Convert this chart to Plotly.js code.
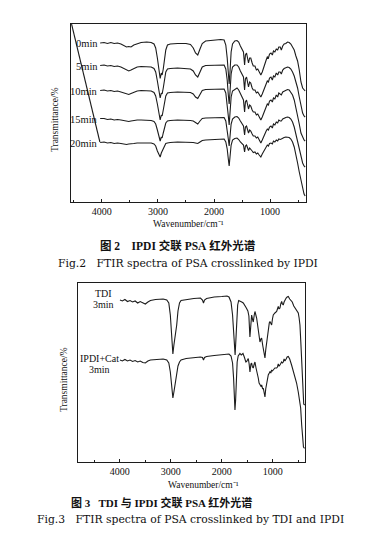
<!DOCTYPE html>
<html>
<head>
<meta charset="utf-8">
<script src="https://cdn.plot.ly/plotly-3.0.1.min.js"></script>
<style>
html,body{margin:0;padding:0;background:#fff;}
#chart{width:376px;height:534px;}
</style>
</head>
<body>
<div id="chart"></div>
<script>
// ---------- Fig.2 : IPDI crosslinked PSA, spectra after 0-20 min ----------
const wn1 = [4030,3960,3900,3840,3780,3720,3660,3600,3560,3520,3480,3430,3370,3300,3200,3120,3070,3040,3010,2985,2960,2940,2925,2905,2885,2860,2830,2780,2650,2500,2420,2370,2330,2290,2250,2210,2150,2000,1880,1820,1790,1765,1745,1730,1715,1695,1670,1630,1590,1560,1530,1500,1475,1455,1440,1420,1400,1385,1365,1345,1320,1300,1270,1245,1220,1195,1165,1140,1115,1095,1070,1050,1030,1010,985,960,940,915,890,865,845,820,800,775,750,720,690,660,630,600,570,540,510,480,450,420,395,375];

const t0min = [157,157.5,156.5,157.5,156.5,157,156,154.5,153,153.5,153,155,156.5,157.5,158,157.5,156,152,142,130,121.5,127,125,131,138,150,155,156,156.5,156.5,155.5,152,147,145,151,156.5,159,160,160.5,160,155,142,125,116,128,148,156,159,159.5,158,154,150,148,135,145,147,139,137,142,142,137,134,134,130,131,128,125,128,133,136,140,143,142,146,147,145,149,148,151,150,153,153,150,154,156,156.5,158,157.5,156,153,150,144,139,130,118,112,110,109];

const t5min = [134.5,135,134,134.5,133.5,134,133,131.5,130,129,130,131.5,133,133.5,133.5,133,131.5,128,119,108,102,107,106,112,119,128,131,131.5,132,131.5,131,129,125,123,128,133,134.5,135,135.5,135,131,120,105,96,108,126,133,135,135,133,129,125,123,110,121,123,114,113,118,117,112,110,110,107,108,105,103,106,110,113,116,119,118,122,123,120,124,123,127,125,128,128,126,130,131.5,132,133,132.5,131,128,124,118,112,103,93,87,84,83];

const t10min = [109.5,110,109,109.5,108.5,109,108,107,106,105.5,106.5,107.5,109,109.5,109.5,109,107.5,104,96,86,80,85,84,90,96,104,107,107.5,108,108,107.5,106,103,101.5,106,109.5,110.5,111,111.5,111,107,97,84,75,87,103,109,111,112,110,106,102,100,88,98,100,92,91,95,94,90,88,88,85,86,83,80,83,87,90,93,96,95,99,100,98,102,101,105,103,107,106,105,108,109,110,110.5,110,108,105,100,93,85,76,67,62,60,59];

const t15min = [81.5,81.5,80.5,81,80,80.5,80,79.5,79,78.5,79,79.5,80,80,80,79.5,78.5,76,70,63,59,63,62,67,72,77,79,79.5,80,80,79.5,79,77,76,79,81.5,82,82.5,83,82.5,79,71,61,54,63,76,81,83,83.5,82,79,76,74,65,73,74,68,67,70,69,66,64,64,62,63,60,57,60,64,66,69,71,70,73,74,72,76,75,78,77,80,79,79,81,82,82.5,83,82.5,81,78,73,66,58,50,42,37,34,33];

const t20min = [57.5,58,57,57.5,56.5,57,56.5,56,55.5,56,56,56.5,57,57,57.5,57,56,54,49,45,43,47,49,51.5,54,56.5,57,57.5,58,58,58,57.5,57,56.5,58,59.5,60,60.5,61,61,58,51,41,34,43,55,60,61.5,62,60.5,58,56,55,48,54,55,50,49.5,52,51,49,47.5,48,46,47,45,43,46,49,51,53,55,54,56.5,57,56,59,58,60,59,61,60.5,61,62,62.5,63,63,62.5,61,58,53,46,37,28,19,12,6,4];

const series1Names = ["0min","5min","10min","15min","20min"];
const pointerWn = [4540, 4035];
const pointerT  = [176, 58];

// ---------- Fig.3 : TDI vs IPDI+Cat, 3 min ----------
const wnTDI = [3997,3950,3900,3850,3800,3750,3700,3650,3600,3550,3500,3450,3400,3300,3150,3080,3040,3010,2985,2960,2940,2925,2905,2885,2860,2830,2800,2700,2550,2420,2380,2360,2340,2300,2150,2000,1900,1860,1820,1790,1765,1750,1740,1725,1710,1690,1670,1645,1610,1580,1550,1520,1490,1470,1450,1430,1416,1395,1384,1365,1351,1318,1300,1286,1265,1253,1236,1220,1200,1188,1170,1155,1140,1122,1105,1090,1070,1057,1040,1024,1008,992,960,926,910,894,878,861,845,828,812,796,780,763,740,720,698,670,640,620,590,567,540,502,485,469,452,436,422,410,395,375];
const tTDI = [160,159,160.5,158.5,159.5,158,159,157,158.5,157,156,158,159.5,160.5,161,160,157,145,125,106,115,120,128,135,149,157,159.5,160.5,161.5,162,160,157,160,161.5,163,163.5,164,163,158,145,125,110,105,120,142,155,159.5,158.5,158,157,155,152,149,144,123,142,145,140,138,145,148.5,142,136,132,122,118,121,122,115,112,105,102,110,118,126,132,137,138.5,136,135,141,145,147,148.5,151,153.5,151,152,156,158.5,156,155,158,160,162,163,163.5,161,159,158,154,152,150,147,142,135,118,98,75,60,56,55];

const wnIPDI = [3997,3950,3900,3850,3800,3750,3700,3650,3600,3550,3500,3450,3400,3300,3150,3080,3040,3010,2985,2960,2940,2925,2905,2885,2860,2830,2800,2700,2550,2420,2380,2360,2340,2300,2150,2000,1900,1860,1820,1790,1770,1755,1743,1730,1715,1700,1680,1660,1645,1620,1586,1560,1530,1515,1500,1482,1465,1449,1430,1416,1400,1384,1365,1351,1330,1318,1300,1286,1270,1253,1236,1220,1200,1188,1170,1155,1140,1122,1105,1090,1070,1057,1040,1024,1008,992,960,926,910,894,878,861,845,828,812,796,780,763,740,731,720,698,670,633,600,567,535,502,480,455,435,416,400,385,375];
const tIPDI = [100,99,100.5,99,100,98.5,99.5,98,99,97.5,97,99,100,100.5,101,100,97,88,75,62,68,73,80,85,94,98,100,101.5,102.5,103,102.5,100,102.5,103.5,104.5,105,106,106,104,97,82,65,50,60,82,98,104,106,106.5,105,106.5,103,98,98.5,99.5,101.5,96,88,96,97,93,92,96,98,92,88,85,82,77,76,74,75,71,72,67,63,71,78,82,85,87,88.5,87,90,89,90,92,92,93,96,94,95,97,98,97,98,101,99,101,102,103,103.5,101,95,89,85,77,68,60,52,35,18,13,12,12];

const series2Line1 = ["TDI", "IPDI+Cat"];
const series2Line2 = ["3min", "3min"];

// ---------- styling ----------
const ink = '#1c1c1c';
const serif = 'Liberation Serif, Times New Roman, serif';
const wide = 'DejaVu Serif, Liberation Serif, serif';
const cjk = 'Liberation Serif, Noto Sans CJK SC, serif';

function spec(x, y, xa, ya){
  return {x:x, y:y, xaxis:xa, yaxis:ya, type:'scatter', mode:'lines',
          line:{color:ink, width:1.1}, hoverinfo:'skip'};
}

const traces = [
  spec(wn1, t0min, 'x','y'),
  spec(wn1, t5min, 'x','y'),
  spec(wn1, t10min, 'x','y'),
  spec(wn1, t15min, 'x','y'),
  spec(wn1, t20min, 'x','y'),
  {x:pointerWn, y:pointerT, xaxis:'x', yaxis:'y', type:'scatter', mode:'lines',
   line:{color:ink, width:1.1}, hoverinfo:'skip'},
  spec(wnTDI, tTDI, 'x2','y2'),
  spec(wnIPDI, tIPDI, 'x2','y2')
];

function xax(domain, range, anchor){
  return {domain:domain, range:range, anchor:anchor, showline:true, mirror:true,
    linecolor:ink, linewidth:1.1, showgrid:false, zeroline:false,
    tickmode:'linear', tick0:0, dtick:1000, ticks:'inside', ticklen:3, tickwidth:1, tickcolor:ink,
    minor:{dtick:500, tick0:0, ticks:'inside', ticklen:2, tickcolor:ink, showgrid:false},
    tickfont:{family:serif, size:10, color:'#111'}, fixedrange:true};
}
function yax(domain, range, anchor){
  return {domain:domain, range:range, anchor:anchor, showline:true, mirror:true,
    linecolor:ink, linewidth:1.1, showgrid:false, zeroline:false, showticklabels:false,
    ticks:'', fixedrange:true};
}

const H = 534, W = 376;
const ann = [];
// curve labels fig 2
const lab1T = [157,134,109,81,57];
series1Names.forEach((n,i)=>{
  ann.push({xref:'x', yref:'y', x:4040, y:lab1T[i], text:n, showarrow:false,
    xanchor:'right', yanchor:'middle', font:{family:serif, size:10.5, color:'#111'}});
});
// curve labels fig 3
const lab2X = [4330, 4400];
const lab2T1 = [167, 102];
const lab2T2 = [156, 91];
series2Line1.forEach((n,i)=>{
  ann.push({xref:'x2', yref:'y2', x:lab2X[i], y:lab2T1[i], text:n, showarrow:false,
    xanchor:'center', yanchor:'middle', font:{family:serif, size:10, color:'#111'}});
  ann.push({xref:'x2', yref:'y2', x:lab2X[i], y:lab2T2[i], text:series2Line2[i], showarrow:false,
    xanchor:'center', yanchor:'middle', font:{family:serif, size:10, color:'#111'}});
});
function paperText(px, py, text, size, opts){
  return Object.assign({xref:'paper', yref:'paper', x:px/W, y:1-py/H, text:text, showarrow:false,
    xanchor:'center', yanchor:'middle', font:{family:serif, size:size, color:'#111'}}, opts||{});
}
ann.push(paperText(188, 224, 'Wavenumber/cm\u207B\u00B9', 9.5));
ann.push(paperText(203, 485, 'Wavenumber/cm\u207B\u00B9', 9.5));
ann.push(paperText(55, 120, 'Transmittance/%', 9.5, {textangle:-90}));
ann.push(paperText(64, 380, 'Transmittance/%', 9.5, {textangle:-90}));
ann.push(paperText(178, 245, '<b>图 2\u00a0\u00a0\u00a0\u00a0IPDI\u00a0交联\u00a0PSA\u00a0红外光谱</b>', 11.5, {font:{family:cjk, size:11.5, color:'#111'}}));
ann.push(paperText(188, 263, 'Fig.2\u00a0\u00a0\u00a0FTIR spectra of PSA crosslinked by IPDI', 10.8, {font:{family:wide, size:10.8, color:'#111'}}));
ann.push(paperText(161, 502, '<b>图 3\u00a0\u00a0\u00a0TDI 与 IPDI 交联 PSA 红外光谱</b>', 11, {font:{family:cjk, size:11, color:'#111'}}));
ann.push(paperText(190, 519, 'Fig.3\u00a0\u00a0\u00a0FTIR spectra of PSA crosslinked by TDI and IPDI', 10.8, {font:{family:wide, size:10.8, color:'#111'}}));

const layout = {
  width:W, height:H, margin:{l:0,r:0,t:0,b:0},
  paper_bgcolor:'#fff', plot_bgcolor:'#fff', showlegend:false,
  xaxis: xax([71/W, 306/W], [4550, 360], 'y'),
  yaxis: yax([1-202/H, 1-24/H], [-2, 176], 'x'),
  xaxis2: xax([78/W, 305/W], [4820, 370], 'y2'),
  yaxis2: yax([1-462/H, 1-283/H], [-2, 177], 'x2'),
  annotations: ann
};

Plotly.newPlot('chart', traces, layout, {displayModeBar:false, staticPlot:true});
</script>
</body>
</html>
